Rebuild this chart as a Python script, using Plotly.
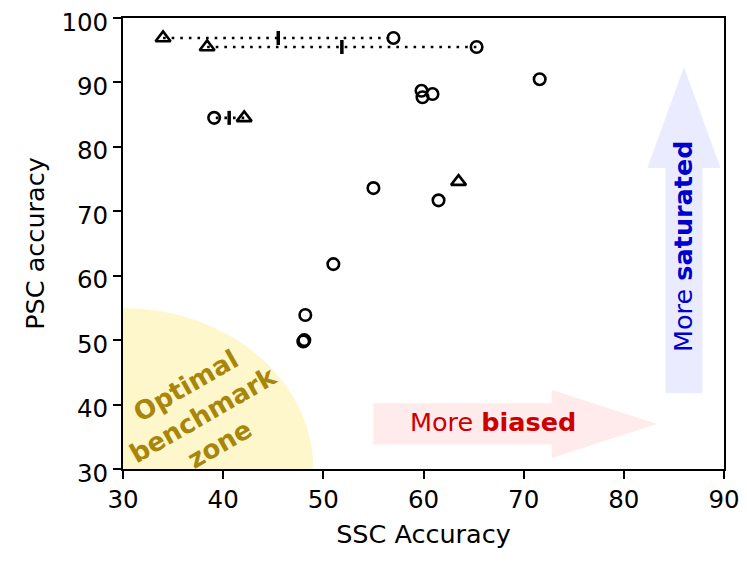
import plotly.graph_objects as go

# ---- data ----
# paired benchmarks: triangle (one variant) joined to circle (other variant)
pair_tri_ssc = [34.0, 38.4, 42.1]
pair_circ_ssc = [57.0, 65.3, 39.1]
pair_psc = [96.9, 95.5, 84.5]
pair_mid_ssc = [45.5, 51.85, 40.6]

# stand-alone benchmarks
circ_ssc = [59.8, 59.9, 60.9, 71.6, 55.0, 61.5, 51.0, 48.2, 48.0, 48.1]
circ_psc = [88.7, 87.7, 88.2, 90.5, 73.6, 71.7, 61.8, 53.9, 49.8, 50.0]
tri_ssc = [63.5]
tri_psc = [74.6]

x_ticks = [30, 40, 50, 60, 70, 80, 90]
y_ticks = [30, 40, 50, 60, 70, 80, 90, 100]

# decorative regions / arrows (data coordinates)
zone_center = (30, 30)
zone_radii = (19, 25)
h_arrow = dict(x0=55.0, x1=83.3, y=37.0, half=3.2, head_half=5.3, head_len=10.5)
v_arrow = dict(x=86.0, y0=41.75, y1=92.4, half=1.85, head_half=3.65, head_len=15.7)

FONT = "DejaVu Sans"

fig = go.Figure()

# dotted connectors
lx, ly = [], []
for a, b, y in zip(pair_tri_ssc, pair_circ_ssc, pair_psc):
    lx += [a, b, None]
    ly += [y, y, None]
fig.add_trace(go.Scatter(x=lx, y=ly, mode="lines",
                         line=dict(color="black", width=2.6, dash="2.6px,6px"),
                         hoverinfo="skip", showlegend=False))

# midpoint bars
fig.add_trace(go.Scatter(x=pair_mid_ssc, y=pair_psc, mode="markers",
                         marker=dict(symbol="line-ns", size=10,
                                     line=dict(color="black", width=3.5)),
                         showlegend=False))

# circles
fig.add_trace(go.Scatter(x=circ_ssc + pair_circ_ssc, y=circ_psc + pair_psc,
                         mode="markers",
                         marker=dict(symbol="circle-open", size=11.5, color="black",
                                     line=dict(width=2.6)),
                         showlegend=False))
# triangles
fig.add_trace(go.Scatter(x=tri_ssc + pair_tri_ssc, y=tri_psc + pair_psc,
                         mode="markers",
                         marker=dict(symbol="triangle-up-open", size=13, color="black",
                                     line=dict(width=2.6)),
                         showlegend=False))

shapes = []
cx, cy = zone_center
rx, ry = zone_radii
shapes.append(dict(type="circle", xref="x", yref="y", x0=cx - rx, x1=cx + rx,
                   y0=cy - ry, y1=cy + ry, fillcolor="#fff7cc",
                   line=dict(width=0), layer="below"))

ha = h_arrow
hx_head = ha["x1"] - ha["head_len"]
path_h = (f"M {ha['x0']},{ha['y']-ha['half']} L {hx_head},{ha['y']-ha['half']} "
          f"L {hx_head},{ha['y']-ha['head_half']} L {ha['x1']},{ha['y']} "
          f"L {hx_head},{ha['y']+ha['head_half']} L {hx_head},{ha['y']+ha['half']} "
          f"L {ha['x0']},{ha['y']+ha['half']} Z")
shapes.append(dict(type="path", xref="x", yref="y", path=path_h,
                   fillcolor="#ffebeb", line=dict(width=0), layer="below"))

va = v_arrow
vy_head = va["y1"] - va["head_len"]
path_v = (f"M {va['x']-va['half']},{va['y0']} L {va['x']-va['half']},{vy_head} "
          f"L {va['x']-va['head_half']},{vy_head} L {va['x']},{va['y1']} "
          f"L {va['x']+va['head_half']},{vy_head} L {va['x']+va['half']},{vy_head} "
          f"L {va['x']+va['half']},{va['y0']} Z")
shapes.append(dict(type="path", xref="x", yref="y", path=path_v,
                   fillcolor="#ebebff", line=dict(width=0), layer="below"))

annotations = [
    dict(x=38.0, y=38.4, xref="x", yref="y", showarrow=False,
         text="<b>Optimal<br>benchmark<br>zone</b>", textangle=-30,
         font=dict(family=FONT, size=26, color="#a8860b")),
    dict(x=66.9, y=37.3, xref="x", yref="y", showarrow=False,
         text="More <b>biased</b>",
         font=dict(family=FONT, size=25.5, color="#cc0000")),
    dict(x=85.9, y=64.6, xref="x", yref="y", showarrow=False,
         text="More <b>saturated</b>", textangle=-90,
         font=dict(family=FONT, size=25.5, color="#0000cc")),
]

axis_common = dict(showline=True, linecolor="black", linewidth=1.8, mirror=True,
                   ticks="outside", ticklen=8, tickwidth=1.6, tickcolor="black",
                   showgrid=False, zeroline=False, automargin=False,
                   ticklabeloverflow="allow",
                   tickfont=dict(family=FONT, size=24.5, color="black"))

fig.update_layout(
    width=739, height=553,
    margin=dict(l=115, r=23, t=10, b=92),
    paper_bgcolor="white", plot_bgcolor="white",
    shapes=shapes, annotations=annotations,
    xaxis=dict(range=[30, 90], tickvals=x_ticks,
               title=dict(text="SSC Accuracy", font=dict(family=FONT, size=25.5, color="black"),
                          standoff=12),
               **axis_common),
    yaxis=dict(range=[30, 100], tickvals=y_ticks, ticklabelshift=4,
               title=dict(text="PSC accuracy", font=dict(family=FONT, size=25.5, color="black"),
                          standoff=10),
               **axis_common),
)

fig.write_html("out.html")
